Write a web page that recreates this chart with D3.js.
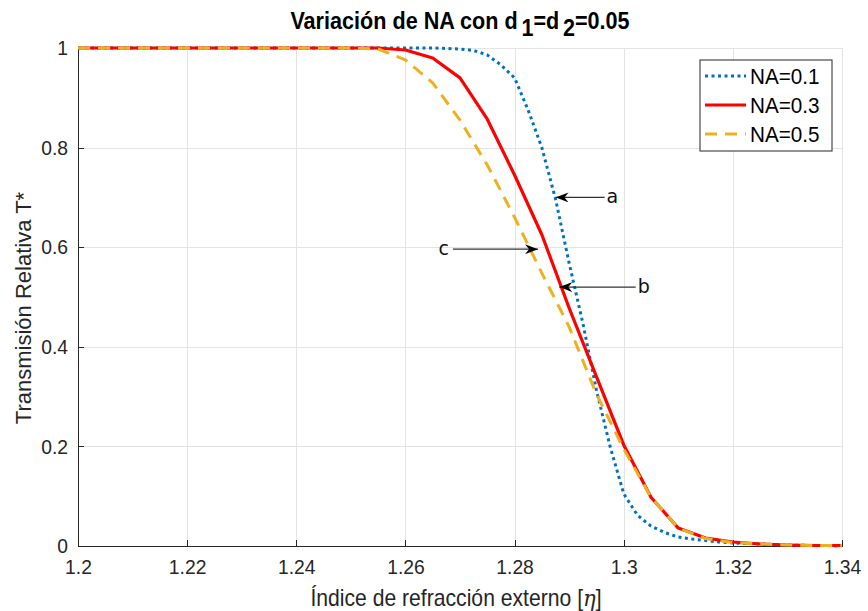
<!DOCTYPE html>
<html>
<head>
<meta charset="utf-8">
<title>Variación de NA</title>
<script src="https://cdn.jsdelivr.net/npm/d3@7"></script>
<style>
  body { margin: 0; background: #fff; }
  text { font-family: "Liberation Sans", Arial, sans-serif; fill: #262626; }
  .grid line { stroke: #e3e3e3; stroke-width: 1; shape-rendering: crispEdges; }
  .axis path, .axis line { stroke: #262626; shape-rendering: crispEdges; }
  .axis text { font-size: 21px; font-family: "Liberation Sans", Arial, sans-serif; }
</style>
</head>
<body>
<script>

// data
var xNA3 = [1.2, 1.205, 1.21, 1.215, 1.22, 1.225, 1.23, 1.235, 1.24, 1.245, 1.25, 1.255, 1.26, 1.265, 1.27, 1.275, 1.28, 1.285, 1.29, 1.295, 1.3, 1.305, 1.31, 1.315, 1.32, 1.325, 1.33, 1.335, 1.34];
var yNA3 = [1, 1, 1, 1, 1, 1, 1, 1, 1, 1, 1, 1, 0.996, 0.98, 0.94, 0.857, 0.745, 0.625, 0.478, 0.34, 0.203, 0.098, 0.036, 0.016, 0.008, 0.004, 0.002, 0.001, 0.001];
var yNA5 = [1, 1, 1, 1, 1, 1, 1, 1, 1, 1, 1, 0.998, 0.976, 0.93, 0.855, 0.765, 0.66, 0.548, 0.44, 0.305, 0.195, 0.098, 0.036, 0.015, 0.007, 0.004, 0.002, 0.001, 0.001];

var xNA1 = [1.2, 1.22, 1.24, 1.26, 1.265, 1.2675, 1.27, 1.2725, 1.275, 1.2775, 1.28, 1.2825, 1.285, 1.2875, 1.29, 1.2925, 1.295, 1.2975, 1.3, 1.3025, 1.305, 1.3075, 1.31, 1.3125, 1.315, 1.3175, 1.32, 1.325, 1.33, 1.335, 1.34];
var yNA1 = [1, 1, 1, 1, 1, 0.999, 0.998, 0.995, 0.986, 0.966, 0.94, 0.875, 0.80, 0.697, 0.568, 0.448, 0.313, 0.20, 0.105, 0.062, 0.04, 0.027, 0.018, 0.014, 0.011, 0.008, 0.006, 0.004, 0.002, 0.001, 0.0005];

var seriesNames = ["NA=0.1", "NA=0.3", "NA=0.5"];
var xTicks = [1.2, 1.22, 1.24, 1.26, 1.28, 1.3, 1.32, 1.34];
var yTicks = [0, 0.2, 0.4, 0.6, 0.8, 1];

// annotations: label, arrow tip (x,y), tail x
var notes = [
  {label: "a", x: 1.2875, y: 0.70, x2: 1.2965, side: "right"},
  {label: "b", x: 1.2882, y: 0.52, x2: 1.3022, side: "right"},
  {label: "c", x: 1.2843, y: 0.596, x2: 1.2687, side: "left"}
];

var width = 868, height = 611;
var margin = {top: 48, right: 26, bottom: 65, left: 78};
var w = width - margin.left - margin.right,
    h = height - margin.top - margin.bottom;
var squeezeK = 0.92;   // text in the figure looks horizontally squeezed

var svg = d3.select("body").append("svg")
    .attr("width", width)
    .attr("height", height);

var g = svg.append("g")
    .attr("transform", "translate(" + margin.left + "," + margin.top + ")");

var x = d3.scaleLinear().domain([1.2, 1.34]).range([0, w]);
var y = d3.scaleLinear().domain([0, 1]).range([h, 0]);

// grid
var grid = g.append("g").attr("class", "grid");
grid.selectAll(".gx").data(xTicks).enter().append("line")
    .attr("x1", function(d) { return Math.round(x(d)) + 0.5; })
    .attr("x2", function(d) { return Math.round(x(d)) + 0.5; })
    .attr("y1", 0).attr("y2", h);
grid.selectAll(".gy").data(yTicks).enter().append("line")
    .attr("y1", function(d) { return Math.round(y(d)) + 0.5; })
    .attr("y2", function(d) { return Math.round(y(d)) + 0.5; })
    .attr("x1", 0).attr("x2", w);

// axes (ticks inward like matlab)
var xAxis = d3.axisBottom(x).tickValues(xTicks).tickSizeInner(-6).tickSizeOuter(0)
    .tickPadding(13).tickFormat(function(d) { return String(+d.toFixed(2)); });
var yAxis = d3.axisLeft(y).tickValues(yTicks).tickSizeInner(-6).tickSizeOuter(0)
    .tickPadding(10).tickFormat(function(d) { return String(+d.toFixed(1)); });

g.append("g").attr("class", "axis")
    .attr("transform", "translate(0," + h + ")")
    .call(xAxis);
g.append("g").attr("class", "axis")
    .call(yAxis);
g.selectAll(".axis text").style("fill", "#262626");

// lines
var line = d3.line()
    .x(function(d) { return x(d[0]); })
    .y(function(d) { return y(d[1]); });

var series = [
  {name: seriesNames[0], xs: xNA1, ys: yNA1, color: "#0072BD", dash: "3,3.5", width: 3},
  {name: seriesNames[1], xs: xNA3, ys: yNA3, color: "#FF0000", dash: null, width: 3.2},
  {name: seriesNames[2], xs: xNA3, ys: yNA5, color: "#EDB120", dash: "12,8", width: 3}
];

series.forEach(function(s) {
  var pts = s.xs.map(function(v, i) { return [v, s.ys[i]]; });
  g.append("path")
    .datum(pts)
    .attr("d", line)
    .attr("fill", "none")
    .attr("stroke", s.color)
    .attr("stroke-width", s.width)
    .attr("stroke-dasharray", s.dash)
    .attr("stroke-linejoin", "round");
});

// arrows, drawn from the label towards the curve
svg.append("defs").append("marker")
    .attr("id", "arr")
    .attr("viewBox", "0 0 13 10")
    .attr("refX", 13).attr("refY", 5)
    .attr("markerWidth", 13).attr("markerHeight", 10)
    .attr("markerUnits", "userSpaceOnUse")
    .attr("orient", "auto")
    .append("path")
    .attr("d", "M0,0 L13,5 L0,10 L4,5 Z")
    .attr("fill", "#000");

notes.forEach(function(n) {
  g.append("line")
    .attr("x1", x(n.x2)).attr("y1", y(n.y))
    .attr("x2", x(n.x)).attr("y2", y(n.y))
    .attr("stroke", "#333")
    .attr("stroke-width", 1.2)
    .attr("marker-end", "url(#arr)");
  g.append("text")
    .attr("x", n.side == "right" ? x(n.x2) + 2 : x(n.x2) - 4)
    .attr("y", y(n.y))
    .attr("dy", "0.3em")
    .attr("text-anchor", n.side == "right" ? "start" : "end")
    .style("font-family", "'DejaVu Sans', sans-serif")
    .style("font-size", "19px")
    .style("fill", "#111")
    .text(n.label);
});

// legend
var leg = svg.append("g").attr("transform", "translate(700,60)");
leg.append("rect")
    .attr("width", 132).attr("height", 91)
    .attr("fill", "#fff").attr("stroke", "#262626").attr("stroke-width", 1);
series.forEach(function(s, i) {
  var yy = 16 + i * 29;
  leg.append("line")
    .attr("x1", 5).attr("x2", 46)
    .attr("y1", yy).attr("y2", yy)
    .attr("stroke", s.color)
    .attr("stroke-width", s.width)
    .attr("stroke-dasharray", s.dash);
  leg.append("text")
    .attr("class", "sq")
    .attr("x", 50).attr("y", yy).attr("dy", "0.36em")
    .style("font-size", "22.5px")
    .style("fill", "#000")
    .text(s.name);
});

// title with subscripts
var title = svg.append("text")
    .attr("class", "sq")
    .attr("x", 460).attr("y", 29)
    .attr("text-anchor", "middle")
    .style("font-size", "23.5px")
    .style("font-weight", "bold")
    .style("fill", "#000");
title.append("tspan").text("Variación de NA con d");
title.append("tspan").attr("dx", 4).attr("dy", 7).text("1");
title.append("tspan").attr("dy", -7).text("=d");
title.append("tspan").attr("dx", 4).attr("dy", 7).text("2");
title.append("tspan").attr("dy", -7).text("=0.05");

// axis labels
var xl = svg.append("text")
    .attr("class", "sq")
    .attr("x", margin.left + w / 2 - 4).attr("y", 606)
    .attr("text-anchor", "middle")
    .style("font-size", "23px");
xl.append("tspan").text("Índice de refracción externo [");
xl.append("tspan").style("font-style", "italic").style("font-family", "'DejaVu Serif', serif").text("η");
xl.append("tspan").text("]");

svg.append("text")
    .attr("transform", "translate(31,308) rotate(-90)")
    .attr("text-anchor", "middle")
    .style("font-size", "22px")
    .text("Transmisión Relativa T*");

// squeeze horizontal text widths to match the original figure
function squeeze(sel, k) {
  sel.each(function() {
    var t = d3.select(this);
    var x0 = +t.attr("x") || 0;
    t.attr("x", x0 / k);
    var tr = t.attr("transform") || "";
    t.attr("transform", tr + " scale(" + k + ",1)");
  });
}
squeeze(svg.selectAll(".axis text"), squeezeK);
squeeze(svg.selectAll("text.sq"), squeezeK);

</script>
</body>
</html>
